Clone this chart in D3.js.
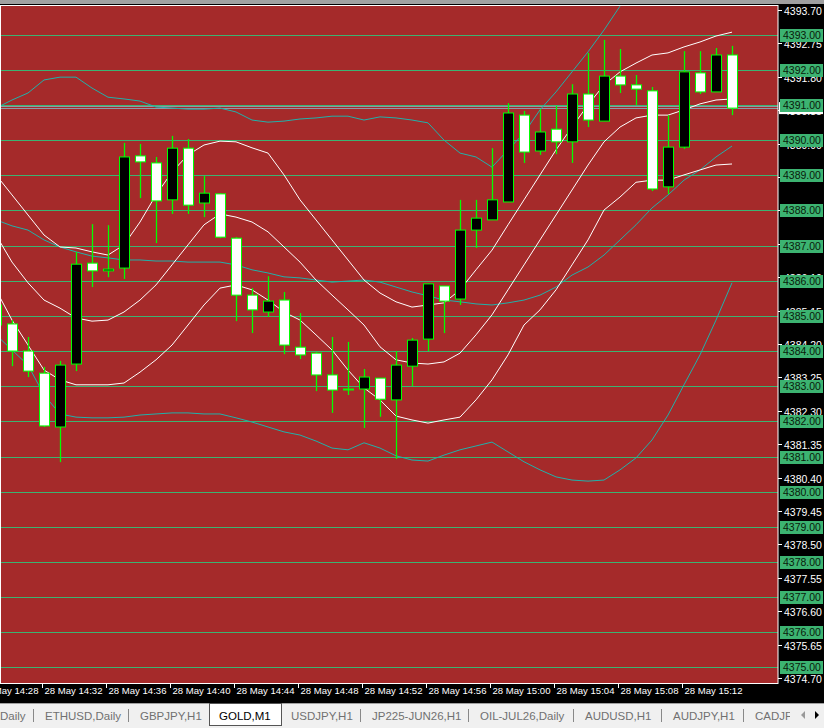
<!DOCTYPE html>
<html><head><meta charset="utf-8">
<script src="https://cdn.jsdelivr.net/npm/d3@7"></script>
<style>body{margin:0;background:#000;overflow:hidden}svg{display:block}</style>
</head><body>
<script>
// ---- data ----
const startTime = "2026-05-28T14:29";
const opens  = [4385.31,4384.77,4384.00,4383.37,4381.84,4383.63,4386.50,4386.28,4386.36,4389.55,4389.35,4388.30,4389.77,4388.21,4388.47,4387.21,4385.59,4385.11,4385.45,4384.11,4383.94,4383.32,4382.92,4382.92,4383.23,4382.61,4383.57,4384.34,4385.85,4385.48,4387.44,4387.73,4388.24,4390.71,4389.69,4390.31,4389.95,4391.31,4390.54,4391.82,4391.57,4391.40,4388.67,4389.80,4391.91,4391.37,4392.42];
const highs  = [4385.51,4384.88,4384.40,4383.55,4383.72,4386.82,4387.61,4387.58,4389.92,4389.89,4389.52,4390.12,4390.03,4388.98,4388.49,4387.24,4385.79,4386.13,4385.68,4385.08,4383.97,4384.40,4384.26,4383.49,4383.23,4384.00,4384.37,4385.91,4385.85,4388.30,4388.30,4389.77,4391.05,4390.83,4390.88,4390.97,4391.59,4392.48,4392.85,4392.59,4391.85,4391.51,4390.71,4392.53,4392.53,4392.62,4392.68];
const lows   = [4384.60,4383.57,4383.26,4381.84,4380.84,4383.43,4385.82,4386.10,4386.05,4388.35,4387.07,4387.90,4387.90,4387.81,4387.21,4384.85,4384.51,4384.97,4383.91,4383.77,4382.86,4382.24,4382.75,4381.81,4382.13,4380.93,4383.00,4384.00,4384.51,4385.31,4386.93,4387.73,4388.24,4389.35,4389.58,4389.60,4389.35,4390.37,4390.54,4391.34,4391.00,4388.55,4388.47,4389.75,4391.31,4391.37,4390.71];
const closes = [4384.74,4384.00,4383.43,4381.87,4383.60,4386.47,4386.28,4386.33,4389.52,4389.38,4388.27,4389.77,4388.15,4388.49,4387.24,4385.59,4385.17,4385.42,4384.17,4383.89,4383.32,4382.89,4382.90,4383.26,4382.63,4383.60,4384.31,4385.91,4385.42,4387.44,4387.78,4388.30,4390.77,4389.66,4390.23,4389.95,4391.31,4390.57,4391.82,4391.57,4391.45,4388.61,4389.80,4391.94,4391.37,4392.42,4390.91];
const bbUpper = [4389.01,4388.44,4387.87,4387.30,4386.96,4386.93,4386.82,4386.73,4387.02,4387.67,4388.44,4389.09,4389.58,4389.86,4389.97,4389.95,4389.78,4389.63,4389.01,4388.30,4387.73,4387.16,4386.59,4386.02,4385.65,4385.40,4385.25,4385.31,4385.37,4385.74,4386.31,4386.87,4387.59,4388.30,4389.01,4389.72,4390.37,4391.00,4391.57,4391.94,4392.19,4392.42,4392.48,4392.65,4392.79,4392.96,4393.07];
const bbMiddle = [4387.30,4386.53,4385.94,4385.45,4385.22,4384.94,4384.85,4384.88,4385.11,4385.45,4385.88,4386.45,4387.02,4387.59,4387.90,4387.81,4387.67,4387.39,4386.96,4386.53,4386.02,4385.59,4385.17,4384.74,4384.12,4383.75,4383.66,4383.63,4383.69,4383.94,4384.46,4385.03,4385.74,4386.45,4387.16,4387.87,4388.58,4389.29,4389.95,4390.37,4390.63,4390.71,4390.71,4390.86,4391.03,4391.14,4391.17];
const bbLower = [4385.74,4384.88,4384.17,4383.46,4383.18,4383.04,4383.04,4383.04,4383.09,4383.40,4383.75,4384.17,4384.74,4385.31,4385.79,4385.88,4385.74,4385.45,4385.11,4384.88,4384.46,4384.03,4383.46,4382.95,4382.61,4382.15,4382.04,4381.95,4382.04,4382.12,4382.61,4383.18,4383.89,4384.74,4385.17,4385.74,4386.45,4387.16,4388.01,4388.38,4388.80,4388.86,4388.86,4389.01,4389.15,4389.29,4389.32];
const envUpper = [4390.91,4391.14,4391.34,4391.71,4391.79,4391.79,4391.48,4391.22,4391.17,4391.11,4390.94,4390.91,4390.88,4390.88,4390.91,4390.80,4390.57,4390.51,4390.54,4390.60,4390.63,4390.68,4390.68,4390.57,4390.66,4390.63,4390.57,4390.49,4390.00,4389.63,4389.52,4389.23,4389.72,4390.20,4390.86,4391.37,4391.94,4392.51,4393.13,4393.81,4394.55,4394.84,4394.98,4394.84,4394.55,4394.13,4393.84];
const envMiddle = [4387.73,4387.56,4387.44,4387.16,4386.96,4386.82,4386.70,4386.65,4386.59,4386.59,4386.56,4386.56,4386.53,4386.53,4386.53,4386.45,4386.31,4386.22,4386.11,4386.08,4386.02,4385.96,4385.99,4386.02,4385.96,4385.82,4385.68,4385.57,4385.45,4385.40,4385.34,4385.31,4385.37,4385.45,4385.59,4385.82,4386.16,4386.39,4386.73,4387.16,4387.59,4388.07,4388.44,4388.86,4389.15,4389.52,4389.83];
const envLower = [4384.46,4384.03,4383.60,4382.75,4382.21,4382.12,4382.10,4382.10,4382.12,4382.18,4382.21,4382.24,4382.24,4382.21,4382.21,4382.10,4381.98,4381.84,4381.70,4381.61,4381.44,4381.24,4381.19,4381.39,4381.24,4381.02,4380.90,4380.87,4381.04,4381.19,4381.30,4381.41,4381.13,4380.85,4380.62,4380.42,4380.33,4380.30,4380.33,4380.62,4380.96,4381.47,4382.18,4383.04,4383.89,4384.88,4385.94];
const levelLines = [4375,4376,4377,4378,4379,4380,4381,4382,4383,4384,4385,4386,4387,4388,4389,4390,4391,4392,4393];
const priceTicks = ["4393.70","4392.75","4391.80","4390.85","4389.90","4388.95","4388.00","4387.05","4386.10","4385.15","4384.20","4383.25","4382.30","4381.35","4380.40","4379.45","4378.50","4377.55","4376.60","4375.65","4374.70"];
const timeTicks = ["14:28","14:32","14:36","14:40","14:44","14:48","14:52","14:56","15:00","15:04","15:08","15:12"];
const tabs = ["Daily","ETHUSD,Daily","GBPJPY,H1","GOLD,M1","USDJPY,H1","JP225-JUN26,H1","OIL-JUL26,Daily","AUDUSD,H1","AUDJPY,H1","CADJF"];
const activeTab = "GOLD,M1";

// ---- layout ----
const W=824,H=728, plotR=778, plotT=5, plotB=683;
const t0=new Date(startTime);
const times=opens.map((d,i)=>new Date(t0.getTime()+i*60000));
const x=d3.scaleTime().domain([t0,times[times.length-1]]).range([-4,732]);
const y=d3.scaleLinear().domain([4374.70,4393.70]).range([678,10]);
const svg=d3.select("body").append("svg").attr("width",W).attr("height",H);
svg.append("rect").attr("width",W).attr("height",H).attr("fill","#000");
svg.append("rect").attr("width",W).attr("height",4).attr("fill","#a0a0a0");
svg.append("defs").append("clipPath").attr("id","cp").append("rect").attr("x",0).attr("y",plotT).attr("width",plotR).attr("height",plotB-plotT);
svg.append("rect").attr("x",0).attr("y",plotT).attr("width",plotR).attr("height",plotB-plotT).attr("fill","#a52a2a");
const g=svg.append("g").attr("clip-path","url(#cp)");
g.selectAll(".lv").data(levelLines).join("line").attr("x1",0).attr("x2",plotR)
 .attr("y1",d=>Math.round(y(d))+0.5).attr("y2",d=>Math.round(y(d))+0.5).attr("stroke","#3cb371").attr("stroke-width",1);
const last=closes[closes.length-1];
g.append("line").attr("x1",0).attr("x2",plotR).attr("y1",Math.round(y(last))+0.5).attr("y2",Math.round(y(last))+0.5).attr("stroke","#8c9aa6");
g.append("line").attr("x1",0).attr("x2",plotR).attr("y1",Math.round(y(last))-1.5).attr("y2",Math.round(y(last))-1.5).attr("stroke","#8c9aa6");
const line=d3.line().x((d,i)=>x(times[i])).y(d=>y(d));
[[envUpper,"#20b2aa"],[envMiddle,"#20b2aa"],[envLower,"#20b2aa"],[bbUpper,"#fff"],[bbMiddle,"#fff"],[bbLower,"#fff"]].forEach(([arr,c])=>{
  g.append("path").attr("d",line(arr)).attr("fill","none").attr("stroke",c).attr("stroke-width",1);
});
const cg=g.selectAll(".c").data(opens.map((o,i)=>({o,h:highs[i],l:lows[i],c:closes[i],t:times[i]}))).join("g");
cg.append("line").attr("x1",d=>Math.round(x(d.t))+0.5).attr("x2",d=>Math.round(x(d.t))+0.5)
 .attr("y1",d=>y(d.h)).attr("y2",d=>y(d.l)).attr("stroke","#00ff00").attr("stroke-width",1.3);
cg.append("rect").attr("x",d=>Math.round(x(d.t))-4.5).attr("width",10)
 .attr("y",d=>y(Math.max(d.o,d.c))).attr("height",d=>Math.max(1,Math.abs(y(d.o)-y(d.c))))
 .attr("fill",d=>d.c>d.o?"#000":(d.c<d.o?"#fff":"#00ff00")).attr("stroke","#00ff00").attr("stroke-width",1);
svg.append("rect").attr("x",0.5).attr("y",plotT+0.5).attr("width",plotR-0.5).attr("height",plotB-plotT).attr("fill","none").attr("stroke","#fff");
const ax=svg.append("g").attr("font-family","Liberation Sans, Arial, sans-serif").attr("font-size","10.5px");
priceTicks.forEach(t=>{const yy=Math.round(y(+t))+0.5;
  ax.append("line").attr("x1",plotR).attr("x2",plotR+4).attr("y1",yy).attr("y2",yy).attr("stroke","#fff");
  ax.append("text").attr("x",plotR+6).attr("y",yy+4).attr("fill","#fff").text(t);});
ax.append("rect").attr("x",plotR+1).attr("y",y(last)-6).attr("width",44).attr("height",12).attr("fill","#fff");
ax.append("text").attr("x",plotR+6).attr("y",y(last)+4).attr("fill","#000").text(last.toFixed(2));
levelLines.forEach(v=>{const yy=Math.round(y(v));
  ax.append("rect").attr("x",plotR+2).attr("y",yy-6).attr("width",43).attr("height",13).attr("fill","#3cb371");
  ax.append("text").attr("x",plotR+5).attr("y",yy+4).attr("fill","#0a1a0a").text(v.toFixed(2));});
const tx=svg.append("g").attr("font-family","Liberation Sans, Arial, sans-serif").attr("font-size","9.6px").attr("fill","#fff");
timeTicks.forEach(s=>{const d=new Date("2026-05-28T"+s);const xx=Math.round(x(d))-1.5;
  tx.append("line").attr("x1",xx).attr("x2",xx).attr("y1",plotB).attr("y2",plotB+5).attr("stroke","#fff");
  tx.append("text").attr("x",xx+2).attr("y",plotB+11).attr("textLength",58).attr("lengthAdjust","spacingAndGlyphs").text("28 May "+s);});
svg.append("rect").attr("x",0).attr("y",703).attr("width",W).attr("height",25).attr("fill","#f0f0f0");
svg.append("line").attr("x1",0).attr("x2",W).attr("y1",703.5).attr("y2",703.5).attr("stroke","#a0a0a0");
const tabX=[0,45,140,219,291,372,480,585,673,755];
const tb=svg.append("g").attr("font-family","Liberation Sans, Arial, sans-serif").attr("font-size","11.5px");
tabs.forEach((t,i)=>{
  if(t===activeTab){tb.append("rect").attr("x",tabX[i]-9.5).attr("y",703.5).attr("width",72).attr("height",22).attr("fill","#fff").attr("stroke","#555");}
  else if(i>0 && tabs[i-1]!==activeTab){tb.append("line").attr("x1",tabX[i]-11.5).attr("x2",tabX[i]-11.5).attr("y1",709).attr("y2",722).attr("stroke","#888");}
  tb.append("text").attr("x",tabX[i]).attr("y",720).attr("fill",t===activeTab?"#000":"#707070").text(t);
});
svg.append("rect").attr("x",790).attr("y",704).attr("width",34).attr("height",24).attr("fill","#f0f0f0");
svg.append("path").attr("d","M805,711 L801,715 L805,719 Z").attr("fill","#999");
svg.append("path").attr("d","M815,711 L819,715 L815,719 Z").attr("fill","#000");
</script>
</body></html>
